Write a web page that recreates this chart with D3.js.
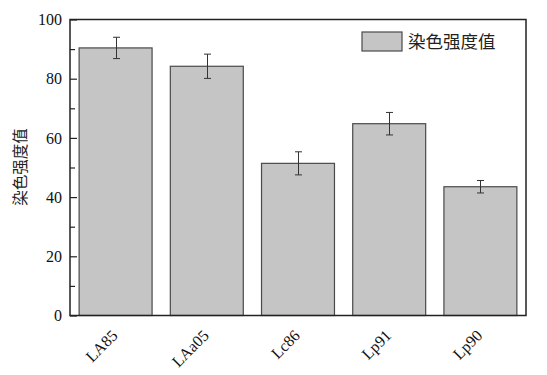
<!DOCTYPE html>
<html><head><meta charset="utf-8">
<script src="https://cdn.jsdelivr.net/npm/d3@7"></script>
<style>body{margin:0;background:#fff}</style>
</head><body>
<svg id="c" width="547" height="375"></svg>
<script>
const categories = ["LA85", "LAa05", "Lc86", "Lp91", "Lp90"];
const values = [90.4, 84.2, 51.4, 64.8, 43.5];
const errors = [3.6, 4.1, 3.9, 3.8, 2.1];
const yTicks = [0, 20, 40, 60, 80, 100];
const yMinorTicks = [10, 30, 50, 70, 90];
const seriesName = "染色强度值";

const svg = d3.select("#c");
const L = 70, R = 526, T = 19.5, B = 315.5;
const serif = "'Liberation Serif', 'Times New Roman', 'DejaVu Serif', serif";
const cjk = "'Noto Sans CJK SC', 'Noto Sans CJK JP', sans-serif";

const x = d3.scaleBand().domain(categories).range([L, R]).paddingInner(0.2).paddingOuter(0.1);
const y = d3.scaleLinear().domain([0, 100]).range([B, T]);

const data = categories.map((c, i) => ({c, v: values[i], e: errors[i]}));

// bars
svg.append("g").selectAll("rect").data(data).join("rect")
  .attr("x", d => x(d.c)).attr("y", d => y(d.v))
  .attr("width", x.bandwidth()).attr("height", d => y(0) - y(d.v))
  .attr("fill", "#c5c5c5").attr("stroke", "#4a4a4a").attr("stroke-width", 1.2);

// error bars
const eg = svg.append("g").attr("stroke", "#333").attr("stroke-width", 1);
data.forEach(d => {
  const cx = Math.round(x(d.c) + x.bandwidth() / 2) + 0.5;
  eg.append("line").attr("x1", cx).attr("x2", cx).attr("y1", y(d.v + d.e)).attr("y2", y(d.v - d.e));
  eg.append("line").attr("x1", cx - 3.5).attr("x2", cx + 3.5).attr("y1", y(d.v + d.e)).attr("y2", y(d.v + d.e));
  eg.append("line").attr("x1", cx - 3.5).attr("x2", cx + 3.5).attr("y1", y(d.v - d.e)).attr("y2", y(d.v - d.e));
});

// frame
svg.append("rect").attr("x", L).attr("y", T).attr("width", R - L).attr("height", B - T)
  .attr("fill", "none").attr("stroke", "#222").attr("stroke-width", 1.5);

// y axis
const yAxis = d3.axisLeft(y).tickValues(yTicks).tickSizeInner(-7).tickSizeOuter(0).tickPadding(8).tickFormat(d3.format("d"));
const ya = svg.append("g").attr("transform", `translate(${L},0)`).call(yAxis);
ya.select(".domain").remove();
ya.selectAll(".tick line").attr("stroke", "#222").attr("stroke-width", 1.2);
ya.selectAll(".tick text").style("font-family", serif).style("font-size", "16px").attr("fill", "#111");
const yMinor = d3.axisLeft(y).tickValues(yMinorTicks).tickSizeInner(-5).tickSizeOuter(0).tickFormat("");
const ym = svg.append("g").attr("transform", `translate(${L},0)`).call(yMinor);
ym.select(".domain").remove();
ym.selectAll(".tick line").attr("stroke", "#222").attr("stroke-width", 1.2);

// x axis labels
const xAxis = d3.axisBottom(x).tickSize(0).tickPadding(0);
const xa = svg.append("g").attr("transform", `translate(0,${B})`).call(xAxis);
xa.select(".domain").remove();
xa.selectAll(".tick text")
  .style("font-family", serif).style("font-size", "16px").attr("fill", "#111")
  .attr("text-anchor", "end").attr("dy", 0)
  .attr("transform", "translate(3,21) rotate(-45)");

// y title
svg.append("text").attr("transform", `translate(26,167) rotate(-90)`)
  .attr("text-anchor", "middle").style("font-family", cjk).style("font-size", "15.5px").attr("fill", "#222")
  .text(seriesName);

// legend
svg.append("rect").attr("x", 362).attr("y", 32).attr("width", 40).attr("height", 19)
  .attr("fill", "#c5c5c5").attr("stroke", "#4a4a4a").attr("stroke-width", 1.2);
svg.append("text").attr("x", 408).attr("y", 47.5).style("font-family", cjk).style("font-size", "17.5px")
  .attr("fill", "#222").text(seriesName);
</script>
</body></html>
